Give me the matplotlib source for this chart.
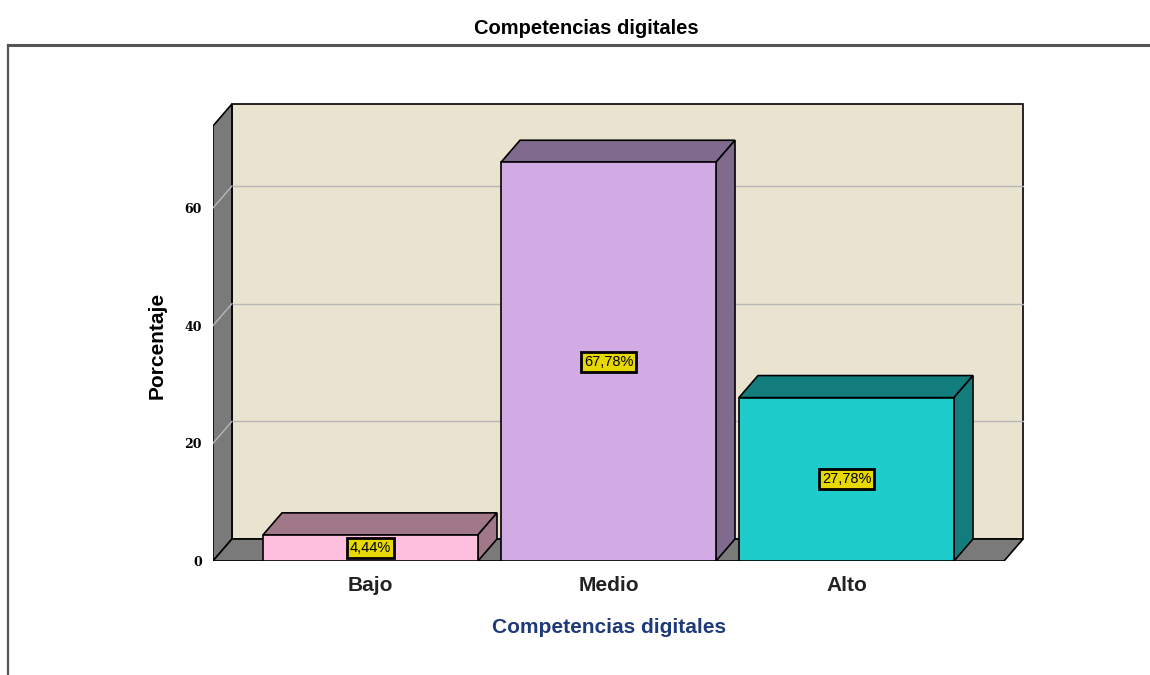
import numpy as np
import matplotlib
matplotlib.use("Agg")
import matplotlib.pyplot as plt
from matplotlib.patches import Polygon, Rectangle
from matplotlib.lines import Line2D

plt.rcParams['font.family'] = ['Liberation Sans', 'DejaVu Sans']

# data
categories = ['Bajo', 'Medio', 'Alto']
percentages = [4.44, 67.78, 27.78]
value_labels = ['4,44%', '67,78%', '27,78%']
yticks = [0, 20, 40, 60]

front_colors = ['#FFC0E0', '#D2AAE4', '#1ECCCC']
dark_colors = ['#A07888', '#806A8E', '#137D7D']

W, H = 1150, 675
fig = plt.figure(figsize=(W / 100, H / 100), dpi=100)

# axes box in pixel terms (front plane)
px_left, px_right, px_bottom, px_top = 213, 1040, 561, 90
ax = fig.add_axes([px_left / W, 1 - px_bottom / H,
                   (px_right - px_left) / W, (px_bottom - px_top) / H])

cat_step = 238.0      # px between categories
px_per_unit = 5.883   # px per percent
x0_px = 370.5         # pixel of first category centre
ax.set_xlim((px_left - x0_px) / cat_step, (px_right - x0_px) / cat_step)
ax.set_ylim(0, (px_bottom - px_top) / px_per_unit)

dx = 19 / cat_step          # depth offset in x
dy = 22 / px_per_unit       # depth offset in y
bw = 215 / cat_step         # bar width
xl, xr = -0.662, 2.662      # floor limits
wall_top = (px_bottom - 104) / px_per_unit

wall_gray = '#7A7A7A'
# back wall
ax.add_patch(Polygon([(xl + dx, dy), (xr + dx, dy), (xr + dx, wall_top), (xl + dx, wall_top)],
                     closed=True, facecolor='#E9E3CF', edgecolor='black', lw=1.2, zorder=1))
# left wall
ax.add_patch(Polygon([(xl, 0), (xl + dx, dy), (xl + dx, wall_top), (xl, wall_top - dy)],
                     closed=True, facecolor=wall_gray, edgecolor='black', lw=1.2, zorder=2))
# floor
ax.add_patch(Polygon([(xl, 0), (xr, 0), (xr + dx, dy), (xl + dx, dy)],
                     closed=True, facecolor=wall_gray, edgecolor='black', lw=1.2, zorder=2))

# gridlines on back wall and left wall
for t in yticks[1:]:
    ax.add_line(Line2D([xl + dx, xr + dx], [t + dy, t + dy], color='#B8B8B8', lw=1, zorder=1.5))
    ax.add_line(Line2D([xl, xl + dx], [t, t + dy], color='#B8B8B8', lw=1, zorder=2.5))

# bars
for i, v in enumerate(percentages):
    x1, x2 = i - bw / 2, i + bw / 2
    ax.add_patch(Polygon([(x1, v), (x1 + dx, v + dy), (x2 + dx, v + dy), (x2, v)],
                         closed=True, facecolor=dark_colors[i], edgecolor='black', lw=1.2, zorder=3))
    ax.add_patch(Polygon([(x2, 0), (x2 + dx, dy), (x2 + dx, v + dy), (x2, v)],
                         closed=True, facecolor=dark_colors[i], edgecolor='black', lw=1.2, zorder=3))
    ax.add_patch(Rectangle((x1, 0), bw, v, facecolor=front_colors[i], edgecolor='black',
                           lw=1.2, zorder=4))
    ax.text(i, v / 2, value_labels[i], ha='center', va='center', fontsize=10.5, zorder=5,
            bbox=dict(boxstyle='square,pad=0.2', facecolor='#E6D800', edgecolor='black', lw=2))

for s in ax.spines.values():
    s.set_visible(False)
ax.set_facecolor('none')
ax.set_yticks(yticks)
ax.set_yticklabels([str(t) for t in yticks], fontsize=9, fontweight='bold', family='DejaVu Serif')
ax.set_xticks(range(len(categories)))
ax.set_xticklabels(categories, fontsize=15, fontweight='bold', color='#222222')
ax.tick_params(axis='y', length=0, pad=8)
ax.tick_params(axis='x', length=0, pad=11)

ax.set_ylabel('Porcentaje', fontsize=15, fontweight='bold')
ax.yaxis.set_label_coords((167 - px_left) / (px_right - px_left), (px_bottom - 345) / (px_bottom - px_top))
ax.set_xlabel('Competencias digitales', fontsize=15, fontweight='bold', color='#1F3A7A')
ax.xaxis.set_label_coords((609 - px_left) / (px_right - px_left), (px_bottom - 618) / (px_bottom - px_top))

fig.text(586 / W, 1 - 28 / H, 'Competencias digitales', ha='center', va='center',
         fontsize=14.5, fontweight='bold')

# outer panel border
fig.add_artist(Line2D([8 / W, 1], [1 - 45 / H, 1 - 45 / H], color='#555555', lw=2.2))
fig.add_artist(Line2D([8 / W, 8 / W], [0, 1 - 45 / H], color='#555555', lw=1.6))

fig.savefig('out.png', dpi=100)
